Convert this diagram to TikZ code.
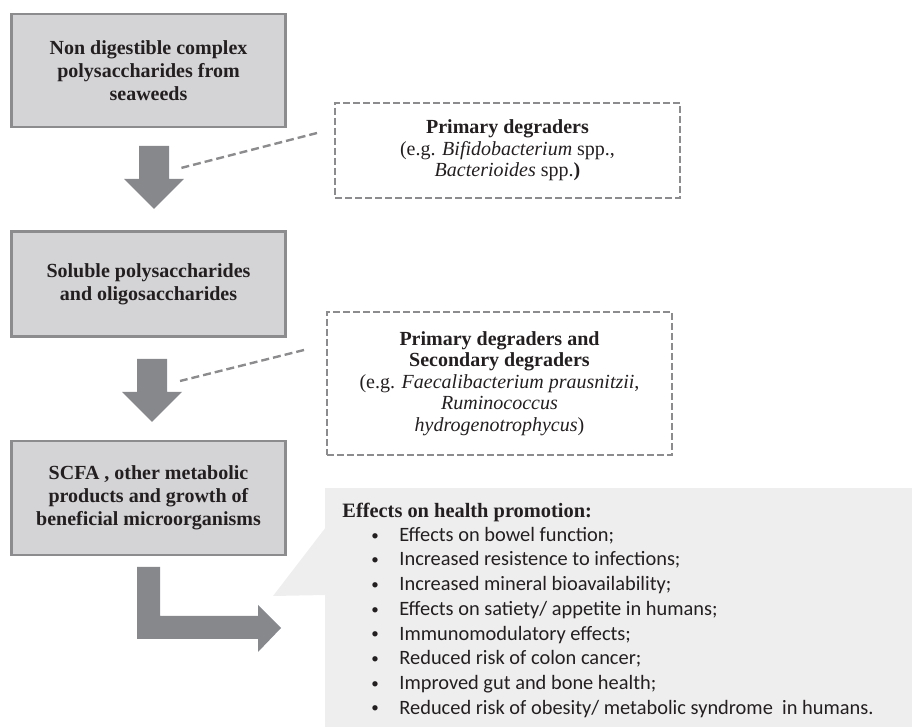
\documentclass[tikz,border=0pt]{standalone}
\usepackage{fontspec}
\setmainfont{Liberation Serif}
\newfontfamily\bodysans{Carlito}
\usepackage{tikz}
\usetikzlibrary{positioning}

\definecolor{boxgray}{RGB}{212,212,214}
\definecolor{edgegray}{RGB}{140,140,142}
\definecolor{arrowgray}{RGB}{135,136,140}
\definecolor{panelgray}{RGB}{238,238,238}
\definecolor{inkblack}{RGB}{35,31,32}

\newcommand{\effect}[1]{\hspace*{14.5pt}\makebox[14pt][l]{\raisebox{0.6pt}{\fontsize{7.5}{7.5}\selectfont\textbullet}}#1}

\begin{document}
\begin{tikzpicture}[
    x=0.5pt, y=-0.5pt,
    node distance=51pt,
    stage/.style={rectangle, draw=edgegray, line width=1.3pt, fill=boxgray, minimum width=137pt, align=center, text=inkblack, font=\bfseries\fontsize{10}{11.5}\selectfont},
    microbes/.style={rectangle, draw=edgegray, line width=1pt, dash pattern=on 3.5pt off 1.5pt, minimum width=172.5pt, align=center, text=inkblack, font=\fontsize{10}{10.8}\selectfont},
    link/.style={draw=edgegray, line width=1.2pt, dash pattern=on 4pt off 2pt},
    bigarrow/.style={fill=arrowgray}
]
    \useasboundingbox (0,0) rectangle (912,727);

    % main chain of products
    \node[stage, minimum height=56.5pt] (seaweed) at (148.5,70.5) {Non digestible complex\\polysaccharides from\\seaweeds};
    \node[stage, minimum height=52.5pt, below=of seaweed] (soluble) {Soluble polysaccharides\\and oligosaccharides};
    \node[stage, minimum height=57pt, below=of soluble] (scfa) {SCFA , other metabolic\\products and growth of\\beneficial microorganisms};

    % block arrows
    \fill[bigarrow] (139,146) -- (169,146) -- (169,179) -- (184,179) -- (154,209) -- (124,179) -- (139,179) -- cycle;
    \coordinate (arrowA) at (181,168);
    \fill[bigarrow] (137,359) -- (167,359) -- (167,392) -- (182,392) -- (152,422) -- (122,392) -- (137,392) -- cycle;
    \coordinate (arrowB) at (180,381);
    \fill[bigarrow] (137,567) -- (160,567) -- (160,616) -- (258,616) -- (258,605) -- (281,628) -- (258,652) -- (258,639) -- (137,639) -- cycle;

    % degraders
    \node[microbes, minimum height=47.5pt] (primary) at (507.5,150.5) {\textbf{Primary degraders}\\(e.g. \textit{Bifidobacterium} spp.,\\\textit{Bacterioides} spp.\textbf{)}};
    \node[microbes, minimum height=71.5pt] (secondary) at (499.5,383.5) {\textbf{Primary degraders and}\\\textbf{Secondary degraders}\\(e.g. \textit{Faecalibacterium prausnitzii},\\\textit{Ruminococcus}\\\textit{hydrogenotrophycus})};

    \draw[link] ([shift={(-8.5pt,8.75pt)}]primary.west) -- (arrowA);
    \draw[link] ([shift={(-11pt,16.75pt)}]secondary.west) -- (arrowB);

    % health effects panel
    \node[fill=panelgray, inner sep=0, minimum width=293.5pt, minimum height=119.5pt, anchor=north west] (panel) at (325,488) {};
    \fill[panelgray] (326,527) -- (273,596) -- (326,595) -- cycle;
    \node[anchor=north west, inner sep=0, align=left, text=inkblack, font=\bodysans\fontsize{10.2}{12.35}\selectfont] (effects) at (342,503) {%
        {\rmfamily\bfseries\fontsize{10.2}{11.5}\selectfont Effects on health promotion:}\\[-0.6pt]
        \effect{Effects on bowel function;}\\
        \effect{Increased resistence to infections;}\\
        \effect{Increased mineral bioavailability;}\\
        \effect{Effects on satiety/ appetite in humans;}\\
        \effect{Immunomodulatory effects;}\\
        \effect{Reduced risk of colon cancer;}\\
        \effect{Improved gut and bone health;}\\
        \effect{Reduced risk of obesity/ metabolic syndrome\ \ in humans.}};
\end{tikzpicture}
\end{document}
